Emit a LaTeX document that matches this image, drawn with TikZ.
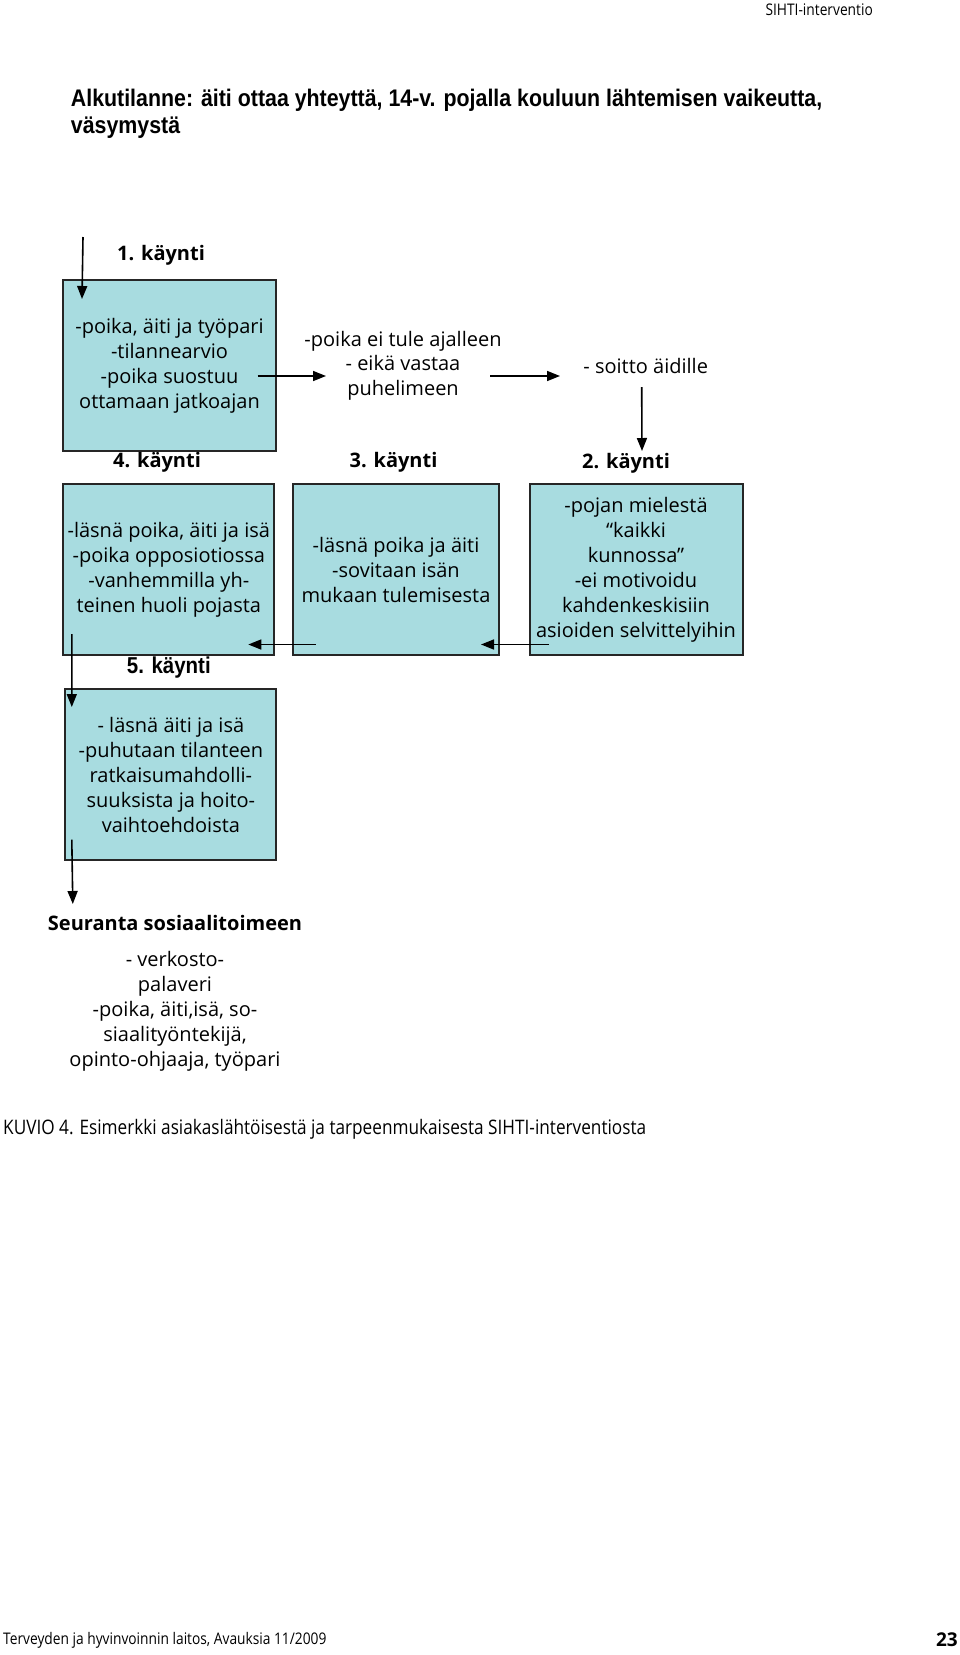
\documentclass[tikz,border=0pt]{standalone}
\usepackage{fontspec}
\setmainfont{Open Sans}
\newfontfamily\armfont[FakeStretch=0.89]{Liberation Sans}
\newfontfamily\narrowfont[FakeStretch=0.86]{Open Sans}
\usetikzlibrary{arrows.meta,calc,positioning}
\definecolor{boxcyan}{RGB}{168,220,224}

\begin{document}
\begin{tikzpicture}[x=1pt,y=-1pt,
     visit/.style = {draw=black!85, line width=2pt, fill=boxcyan, inner sep=0pt, align=center,
      minimum height=171, font=\fontsize{20}{25}\selectfont},
     note/.style = {align=center, inner sep=0pt, font=\fontsize{20}{24.5}\selectfont},
     tag/.style = {inner sep=0pt, font=\fontsize{20}{22}\selectfont\bfseries},
     armtag/.style = {inner sep=0pt, font=\armfont\fontsize{23}{24}\selectfont\bfseries},
     arrow/.style = {draw, line width=1.6pt, -{Triangle[length=13pt,width=10pt]}}
    ]
    \useasboundingbox (0,0) rectangle (960,1655);

    \node [anchor=east, inner sep=0pt, font=\narrowfont\fontsize{16}{17}\selectfont] (runhead) at (873,10) {SIHTI-interventio};
    \node [anchor=base west, inner sep=0pt, font=\armfont\fontsize{24}{26}\selectfont\bfseries] (title) at (70.7,106.5)
      {Alkutilanne: äiti ottaa yhteyttä, 14-v. pojalla kouluun lähtemisen vaikeutta,};
    \node [anchor=base west, inner sep=0pt, font=\armfont\fontsize{24}{26}\selectfont\bfseries] (title2) at (70.7,133)
      {väsymystä};

    \node [tag] (t1) at (161,255) {1. käynti};
    \node [visit, minimum width=213] (box1) at (169.5,365.5)
      {-poika, äiti ja työpari\\-tilannearvio\\-poika suostuu\\ottamaan jatkoajan};
    \node [note] (stay) at (403,365.5) {-poika ei tule ajalleen\\- eikä vastaa\\puhelimeen};
    \node [note] (call) at (645.7,366) {- soitto äidille};

    \node [tag] (t4) at (157,462) {4. käynti};
    \node [tag] (t3) at (393.5,462) {3. käynti};
    \node [tag] (t2) at (626,463) {2. käynti};

    \node [visit, minimum width=211] (boxa) at (168.8,569.5)
      {-läsnä poika, äiti ja isä\\-poika opposiotiossa\\-vanhemmilla yh-\\teinen huoli pojasta};
    \node [visit, minimum width=206] (boxb) at (396,569.5)
      {-läsnä poika ja äiti\\-sovitaan isän\\mukaan tulemisesta};
    \node [visit, minimum width=213] (boxc) at (636,569.5)
      {-pojan mielestä\\``kaikki\\kunnossa''\\-ei motivoidu\\kahdenkeskisiin\\asioiden selvittelyihin};

    \node [armtag] (t5) at (168.8,667.8) {5. käynti};
    \node [visit, minimum width=211] (box5) at (170.9,774.5)
      {- läsnä äiti ja isä\\-puhutaan tilanteen\\ratkaisumahdolli-\\suuksista ja hoito-\\vaihtoehdoista};

    \node [tag] (follow) at (175,923) {Seuranta sosiaalitoimeen};
    \node [note, font=\fontsize{20}{25}\selectfont] (network) at (175,1011)
      {- verkosto-\\palaveri\\-poika, äiti,isä, so-\\siaalityöntekijä,\\opinto-ohjaaja, työpari};

    \node [anchor=west, inner sep=0pt, font=\narrowfont\fontsize{20}{22}\selectfont] (caption) at (3,1129)
      {KUVIO 4. Esimerkki asiakaslähtöisestä ja tarpeenmukaisesta SIHTI-interventiosta};
    \node [anchor=west, inner sep=0pt, font=\narrowfont\fontsize{16}{18}\selectfont] (footer) at (3,1640)
      {Terveyden ja hyvinvoinnin laitos, Avauksia 11/2009};
    \node [anchor=east, inner sep=0pt, font=\fontsize{19}{20}\selectfont\bfseries] (page) at (958,1640) {23};

    \coordinate (entry) at (83,237);
    \draw [arrow] (entry) -- ($(box1.north west)+(20,20)$);
    \draw [arrow] ($(box1.east)+(-19.5,10.5)$) -- ($(stay.center)+(-77,10.5)$);
    \draw [arrow] ($(stay.center)+(87,10.5)$) -- ($(call.center)+(-85.7,10)$);
    \draw [arrow] ($(call.center)+(-4,21)$) -- ($(t2.center)+(16,-12)$);
    \draw [arrow] ($(boxb.south west)+(23.5,-11.5)$) -- ($(boxa.south east)+(-27,-11.5)$);
    \draw [arrow] ($(boxc.south west)+(20,-11.5)$) -- ($(boxb.south east)+(-19,-11.5)$);
    \draw [arrow] ($(boxa.south west)+(9.5,-22)$) -- ($(box5.north west)+(7.4,19)$);
    \draw [arrow] ($(box5.south west)+(7.4,-21.3)$) -- ($(follow.center)+(-102.2,-19)$);

\end{tikzpicture}
\end{document}
